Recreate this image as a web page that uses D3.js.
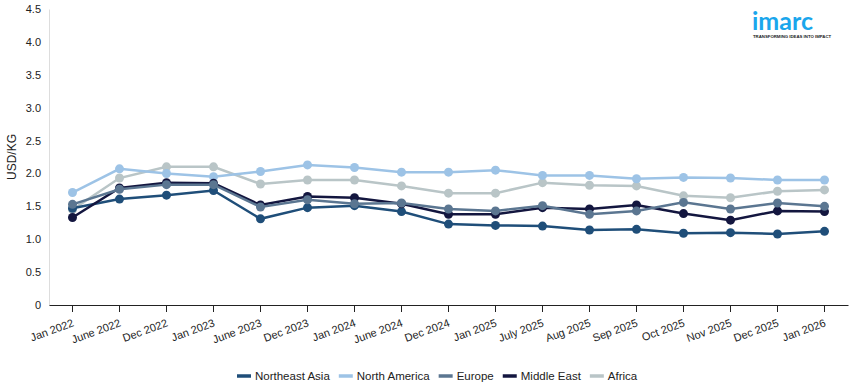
<!DOCTYPE html>
<html>
<head>
<meta charset="utf-8">
<style>
body { margin: 0; background: #fff; }
svg { font-family: "Liberation Sans", Arial, sans-serif; }
.tick text { fill: #222; font-size: 11px; }
</style>
</head>
<body>
<svg id="chart" width="855" height="390"></svg>
<script src="https://d3js.org/d3.v7.min.js"></script>
<script>
// categories
var months = ["Jan 2022","June 2022","Dec 2022","Jan 2023","June 2023","Dec 2023","Jan 2024","June 2024",
  "Dec 2024","Jan 2025","July 2025","Aug 2025","Sep 2025","Oct 2025","Nov 2025","Dec 2025","Jan 2026"];

// series values, USD/KG
var northeastAsia = [1.47,1.61,1.67,1.74,1.31,1.48,1.51,1.42,1.23,1.21,1.20,1.14,1.15,1.09,1.10,1.08,1.12];
var northAmerica  = [1.71,2.07,2.00,1.95,2.03,2.13,2.09,2.02,2.02,2.05,1.97,1.97,1.92,1.94,1.93,1.90,1.90];
var europe        = [1.53,1.76,1.83,1.83,1.49,1.60,1.54,1.55,1.46,1.43,1.51,1.38,1.43,1.56,1.46,1.55,1.50];
var middleEast    = [1.33,1.78,1.86,1.85,1.52,1.65,1.63,1.54,1.38,1.38,1.48,1.46,1.52,1.39,1.29,1.43,1.42];
var africa        = [1.45,1.93,2.10,2.10,1.84,1.90,1.90,1.81,1.70,1.70,1.86,1.82,1.81,1.66,1.63,1.73,1.75];

var yTicks = [0,0.5,1,1.5,2,2.5,3,3.5,4,4.5];

var series = [
  {name: "Northeast Asia", values: northeastAsia, color: "#1f4e79"},
  {name: "North America",  values: northAmerica,  color: "#9dc3e6"},
  {name: "Europe",         values: europe,        color: "#5b7691"},
  {name: "Middle East",    values: middleEast,    color: "#13163f"},
  {name: "Africa",         values: africa,        color: "#b9c5c7"}
];

var svg = d3.select("#chart");
var mLeft = 49, mRight = 848, mTop = 9, mBottom = 305;

var x = d3.scaleBand().domain(months).range([mLeft, mRight]);
var y = d3.scaleLinear().domain([0, 4.5]).range([mBottom, mTop]);

// y axis
var ya = svg.append("g").attr("transform", "translate(" + mLeft + ",0)")
  .call(d3.axisLeft(y).tickValues(yTicks).tickSize(0).tickPadding(8)
    .tickFormat(function(d){ return d === 0 ? "0" : d3.format(".1f")(d); }));
ya.select(".domain").attr("stroke", "#ddd");

svg.append("text")
  .attr("transform", "translate(16," + ((mTop + mBottom) / 2) + ") rotate(-90)")
  .attr("text-anchor", "middle")
  .attr("font-size", 12)
  .attr("fill", "#222")
  .text("USD/KG");

// x axis
var xa = svg.append("g").attr("transform", "translate(0," + mBottom + ")")
  .call(d3.axisBottom(x).tickSize(7).tickSizeOuter(0));
xa.select(".domain").attr("stroke", "#222");
xa.selectAll(".tick line").attr("stroke", "#222");
xa.selectAll(".tick text")
  .attr("text-anchor", "end")
  .attr("y", 0)
  .attr("dy", null)
  .attr("transform", "translate(2,21) rotate(-20)");

// lines
var line = d3.line()
  .x(function(d, i){ return x(months[i]) + x.bandwidth() / 2; })
  .y(function(d){ return y(d); });

var drawOrder = [4, 1, 0, 3, 2];
drawOrder.forEach(function(k){
  var s = series[k];
  var g = svg.append("g");
  g.append("path")
    .attr("d", line(s.values))
    .attr("fill", "none")
    .attr("stroke", s.color)
    .attr("stroke-width", 2.5);
  g.selectAll("circle").data(s.values).enter().append("circle")
    .attr("cx", function(d, i){ return x(months[i]) + x.bandwidth() / 2; })
    .attr("cy", function(d){ return y(d); })
    .attr("r", 4.5)
    .attr("fill", s.color);
});

// legend
var legend = svg.append("g").attr("font-size", 11.5).attr("fill", "#222");
var lx = 237;
series.forEach(function(s){
  var item = legend.append("g").attr("transform", "translate(" + lx + ",376)");
  item.append("line").attr("x1", 0).attr("x2", 14).attr("y1", 0).attr("y2", 0)
    .attr("stroke", s.color).attr("stroke-width", 3.5);
  var t = item.append("text").attr("x", 18).attr("y", 4).text(s.name);
  lx += 18 + t.node().getComputedTextLength() + 9;
});

// logo
var logo = svg.append("g");
logo.append("text").attr("x", 752).attr("y", 30)
  .attr("font-family", "Lato, 'Open Sans', sans-serif").attr("font-weight", 700)
  .attr("font-size", 25).attr("fill", "#1aa6ec").text("imarc");
logo.append("text").attr("x", 753).attr("y", 38)
  .attr("font-size", 4.3).attr("font-weight", 700).attr("fill", "#222")
  .text("TRANSFORMING IDEAS INTO IMPACT");
</script>
</body>
</html>
